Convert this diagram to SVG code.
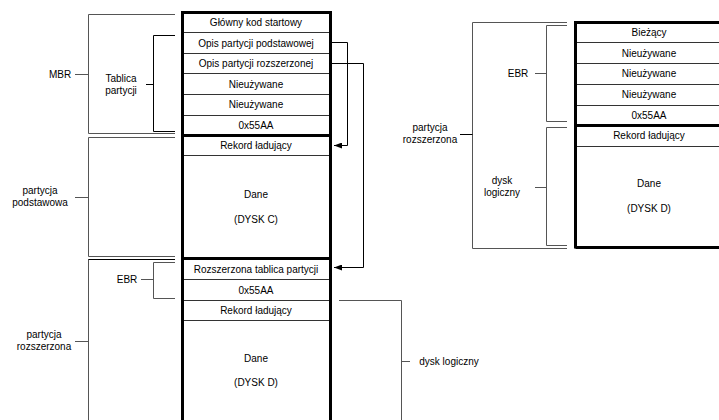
<svg xmlns="http://www.w3.org/2000/svg" width="719" height="420" viewBox="0 0 719 420">
<style>
text{font-family:"Liberation Sans",Arial,sans-serif;font-size:10px;fill:#000;text-anchor:middle}
.thick{stroke:#000;stroke-width:3;fill:none}
.div{stroke:#333;stroke-width:1;fill:none}
.br{stroke:#555;stroke-width:1;fill:none}
.cn{stroke:#000;stroke-width:1;fill:none}
</style>
<defs>
<marker id="ah" viewBox="0 0 8 6" refX="8" refY="3" markerWidth="8" markerHeight="6" markerUnits="userSpaceOnUse" orient="auto">
<path d="M0,0 L8,3 L0,6 z" fill="#000"/>
</marker>
</defs>
<rect width="719" height="420" fill="#fff"/>

<g id="left-disk">
<path class="thick" d="M182.5,420 V12.5 H330.5 V420"/>
<path class="div" d="M184,32.5 H329 M184,53.5 H329 M184,73.5 H329 M184,94.5 H329 M184,115.5 H329"/>
<path class="thick" d="M182,135.5 H331 M182,258.5 H331"/>
<path class="div" d="M184,155.5 H329 M184,279.5 H329 M184,300.5 H329 M184,320.5 H329"/>
<text x="256" y="26">Główny kod startowy</text>
<text x="256" y="46.5">Opis partycji podstawowej</text>
<text x="256" y="67">Opis partycji rozszerzonej</text>
<text x="256" y="87.5">Nieużywane</text>
<text x="256" y="108">Nieużywane</text>
<text x="256" y="128.5">0x55AA</text>
<text x="256" y="149">Rekord ładujący</text>
<text x="256" y="198">Dane</text>
<text x="256" y="223">(DYSK C)</text>
<text x="256" y="272.5">Rozszerzona tablica partycji</text>
<text x="256" y="293.5">0x55AA</text>
<text x="256" y="314">Rekord ładujący</text>
<text x="256" y="362">Dane</text>
<text x="256" y="386">(DYSK D)</text>
</g>

<g id="left-mbr">
<path class="br" d="M175,14.5 H88.5 V133.5 H175 M75,74.5 H88.5"/>
<text x="60" y="78">MBR</text>
</g>
<g id="left-tablica">
<path class="cn" d="M175,35.5 H153.5 V131.5 H175 M146,84.5 H153.5"/>
<text x="121" y="82">Tablica</text>
<text x="121" y="94">partycji</text>
</g>
<g id="left-podstawowa">
<path class="br" d="M175,137.5 H88.5 V256.5 H175 M75,197.5 H88.5"/>
<text x="40" y="194">partycja</text>
<text x="40" y="206">podstawowa</text>
</g>
<g id="left-rozszerzona">
<path class="br" d="M175,259.5 H88.5 V420 M75,341.5 H88.5"/>
<path class="cn" d="M88.5,259.5 H175"/>
<text x="44" y="338">partycja</text>
<text x="44" y="350">rozszerzona</text>
</g>
<g id="left-ebr">
<path class="br" d="M175,262.5 H153.5 V298.5 H175 M141,279.5 H153.5"/>
<text x="127" y="283">EBR</text>
</g>
<g id="left-dysk-logiczny">
<path class="br" d="M339,300.5 H401.5 V420 M401.5,361.5 H410"/>
<text x="449" y="365">dysk logiczny</text>
</g>

<g id="connectors">
<path class="cn" d="M332,42.5 H347.5 V145.5 H334" marker-end="url(#ah)"/>
<path class="cn" d="M332,63.5 H363.5 V267.5 H334" marker-end="url(#ah)"/>
</g>

<g id="right-disk">
<path class="thick" d="M575.5,248.5 V22.5 H722 M575.5,247.5 H722 M574,125.5 H722"/>
<path class="div" d="M577,42.5 H722 M577,63.5 H722 M577,84.5 H722 M577,105.5 H722 M577,146.5 H722"/>
<text x="649" y="36">Bieżący</text>
<text x="649" y="56.5">Nieużywane</text>
<text x="649" y="77">Nieużywane</text>
<text x="649" y="98">Nieużywane</text>
<text x="649" y="118.5">0x55AA</text>
<text x="649" y="139">Rekord ładujący</text>
<text x="649" y="187">Dane</text>
<text x="649" y="212">(DYSK D)</text>
</g>
<g id="right-rozszerzona">
<path class="br" d="M567,22.5 H472.5 V248.5 H567"/>
<path class="cn" d="M460,134.5 H472.5"/>
<text x="430" y="131">partycja</text>
<text x="430" y="143">rozszerzona</text>
</g>
<g id="right-ebr">
<path class="br" d="M567,25.5 H546.5 V121.5 H567 M535,73.5 H546.5"/>
<text x="518" y="77">EBR</text>
</g>
<g id="right-dysk-logiczny">
<path class="br" d="M567,127.5 H546.5 V245.5 H567 M535,187.5 H546.5"/>
<text x="502" y="184">dysk</text>
<text x="502" y="196">logiczny</text>
</g>
</svg>
